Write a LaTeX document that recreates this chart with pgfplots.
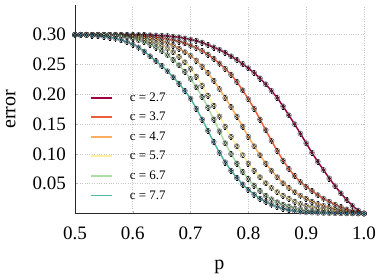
\documentclass[border=0pt]{standalone}
\usepackage{fontspec}
\setmainfont{Liberation Serif}
\usepackage{pgfplots}
\pgfplotsset{compat=1.18}
\usepackage{pgfplotstable}
\definecolor{cA}{HTML}{9E0142}
\definecolor{cB}{HTML}{EE5E3E}
\definecolor{cC}{HTML}{FDAE61}
\definecolor{cD}{HTML}{FFF0A0}
\definecolor{cE}{HTML}{ABDDA4}
\definecolor{cF}{HTML}{50B8A0}
\definecolor{cFm}{HTML}{3288BD}
\pgfplotstableread{
p c27 c37 c47 c57 c67 c77
0.50 .300 .300 .300 .300 .300 .300
0.51 .300 .300 .300 .300 .300 .300
0.52 .300 .300 .300 .300 .300 .2995
0.53 .300 .300 .300 .300 .300 .299
0.54 .300 .300 .300 .300 .300 .298
0.55 .300 .300 .300 .300 .300 .297
0.56 .300 .300 .300 .2995 .2995 .2955
0.57 .300 .300 .2995 .299 .299 .294
0.58 .300 .300 .299 .298 .298 .291
0.59 .300 .2995 .2985 .297 .296 .288
0.60 .300 .299 .298 .2955 .294 .284
0.61 .300 .2985 .297 .294 .291 .279
0.62 .300 .298 .2955 .292 .288 .272
0.63 .2995 .297 .294 .289 .284 .264
0.64 .299 .296 .292 .286 .279 .256
0.65 .2985 .2945 .289 .282 .273 .248
0.66 .298 .293 .286 .277 .266 .239
0.67 .297 .291 .282 .271 .258 .229
0.68 .296 .289 .277 .263 .249 .218
0.69 .294 .286 .271 .254 .238 .206
0.70 .292 .282 .265 .243 .226 .193
0.71 .290 .278 .257 .230 .212 .176
0.72 .287 .273 .247 .215 .196 .158
0.73 .283 .267 .236 .198 .178 .139
0.74 .279 .260 .223 .181 .158 .120
0.75 .275 .252 .209 .163 .138 .102
0.76 .270 .243 .194 .146 .118 .086
0.77 .264 .233 .179 .129 .100 .072
0.78 .258 .221 .163 .113 .084 .060
0.79 .251 .207 .146 .098 .070 .049
0.80 .244 .192 .129 .084 .058 .040
0.81 .236 .176 .113 .072 .047 .032
0.82 .227 .158 .098 .061 .038 .025
0.83 .217 .140 .084 .051 .030 .020
0.84 .206 .122 .072 .043 .024 .015
0.85 .194 .105 .061 .036 .019 .011
0.86 .180 .089 .051 .030 .015 .008
0.87 .165 .075 .043 .025 .012 .006
0.88 .150 .063 .036 .020 .009 .004
0.89 .134 .053 .030 .016 .007 .003
0.90 .118 .045 .025 .013 .005 .002
0.91 .102 .038 .020 .011 .004 .0015
0.92 .087 .031 .016 .009 .003 .001
0.93 .073 .025 .013 .007 .002 .0008
0.94 .059 .020 .010 .006 .0015 .0006
0.95 .046 .015 .008 .004 .001 .0004
0.96 .034 .011 .006 .003 .0007 .0003
0.97 .023 .007 .004 .002 .0004 .0002
0.98 .013 .004 .002 .001 .0002 .0001
0.99 .005 .002 .001 .0005 .0001 .0000
1.00 .000 .000 .000 .000 .000 .000
}\data
\begin{document}
\begin{tikzpicture}
\path[use as bounding box] (-75pt,-65.5pt) rectangle (307pt,213.5pt);
\begin{axis}[
  at={(0,0)}, anchor=south west,
  scale only axis, width=289pt, height=208.5pt,
  xmin=0.5, xmax=1.0, ymin=0, ymax=0.35,
  xtick={0.5,0.6,0.7,0.8,0.9,1.0},
  xticklabels={0.5,0.6,0.7,0.8,0.9,1.0},
  ytick={0.05,0.10,0.15,0.20,0.25,0.30},
  yticklabels={0.05,0.10,0.15,0.20,0.25,0.30},
  axis x line*=bottom, axis y line*=left,
  axis line style={black!85, line width=0.8pt},
  grid=major, grid style={dotted, gray!45, line width=0.6pt},
  tick style={gray!60, line width=0.5pt}, major tick length=3pt, tick align=inside,
  tick label style={font=\fontsize{19}{22}\selectfont},
  xticklabel style={yshift=-10pt},
  yticklabel style={xshift=-5.7pt},
  label style={font=\fontsize{20}{24}\selectfont},
  xlabel={p}, ylabel={error},
  xlabel style={at={(axis description cs:0.5,-0.254)}, anchor=center},
  ylabel style={at={(axis description cs:-0.222,0.5)}, anchor=center},
  legend style={at={(axis description cs:0.041,0.6)}, anchor=north west, draw=none, fill=none,
    font=\fontsize{13}{15}\selectfont, row sep=5.5pt, column sep=15pt},
  legend cell align=left,
  legend image code/.code={\draw[mark repeat=2,mark phase=2,#1] plot coordinates {(0pt,0pt) (10.5pt,0pt) (21pt,0pt)};},
  legend image post style={line width=1.8pt},
]
\addplot[color=cA, line width=1.5pt, mark=none] table[x=p,y=c27] {\data};
\addlegendentry{c = 2.7}
\addplot[color=cB, line width=1.5pt, mark=none] table[x=p,y=c37] {\data};
\addlegendentry{c = 3.7}
\addplot[color=cC, line width=1.5pt, mark=none] table[x=p,y=c47] {\data};
\addlegendentry{c = 4.7}
\addplot[color=cD, line width=1.5pt, mark=none] table[x=p,y=c57] {\data};
\addlegendentry{c = 5.7}
\addplot[color=cE, line width=1.5pt, mark=none] table[x=p,y=c67] {\data};
\addlegendentry{c = 6.7}
\addplot[color=cF, line width=1.5pt, mark=none] table[x=p,y=c77] {\data};
\addlegendentry{c = 7.7}
\addlegendimage{empty legend}
\addlegendentry{}
\pgfplotsset{mk/.style={only marks, mark=*, mark size=1.5pt,
  mark options={fill=#1, draw=black, line width=0.3pt},
  error bars/y dir=both, error bars/y fixed=0.004,
  error bars/error bar style={black, line width=0.3pt},
  error bars/error mark options={rotate=90, mark size=0.9pt, black, line width=0.3pt}}}
\pgfplotsset{halo/.style={only marks, mark=*, mark size=2.6pt,
  mark options={fill=gray!35, draw=none, opacity=0.6}}}
\addplot[halo, forget plot] table[x=p,y=c27] {\data};
\addplot[halo, forget plot] table[x=p,y=c37] {\data};
\addplot[halo, forget plot] table[x=p,y=c47] {\data};
\addplot[halo, forget plot] table[x=p,y=c57] {\data};
\addplot[halo, forget plot] table[x=p,y=c67] {\data};
\addplot[halo, forget plot] table[x=p,y=c77] {\data};
\addplot[mk=cA, forget plot] table[x=p,y=c27] {\data};
\addplot[mk=cB, forget plot] table[x=p,y=c37] {\data};
\addplot[mk=cC, forget plot] table[x=p,y=c47] {\data};
\addplot[mk=cD, forget plot] table[x=p,y=c57] {\data};
\addplot[mk=cE, forget plot] table[x=p,y=c67] {\data};
\addplot[mk=cFm, forget plot] table[x=p,y=c77] {\data};
\end{axis}
\end{tikzpicture}
\end{document}
